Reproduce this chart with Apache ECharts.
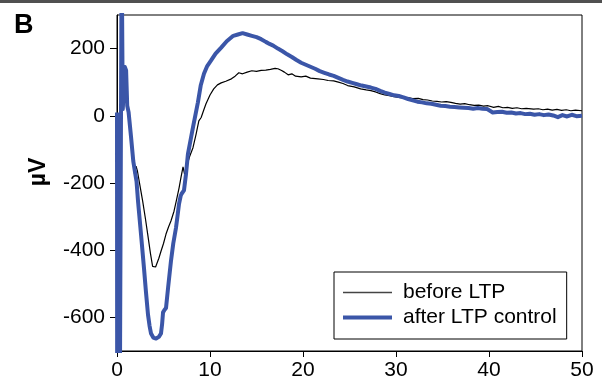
<!DOCTYPE html>
<html><head><meta charset="utf-8">
<script src="https://cdn.jsdelivr.net/npm/echarts@6/dist/echarts.min.js"></script>
<style>html,body{margin:0;padding:0;background:#fff}#c{width:602px;height:385px}</style>
</head><body><div id="c"></div>
<script>
const xTicks = [0, 10, 20, 30, 40, 50];
const yTicks = [-600, -400, -200, 0, 200];
const seriesNames = ['before LTP', 'after LTP control'];

const beforeLTP = [
[1.85,-172],[2.05,-150],[2.2,-165],[2.45,-205],[2.76,-254],[3.05,-305],[3.3,-352],[3.6,-410],[3.83,-448],[3.97,-453],[4.15,-450],[4.5,-424],[4.73,-403],[4.85,-398],[5.0,-380],[5.27,-352],[5.55,-330],[5.8,-313],[6.13,-284],[6.4,-250],[6.67,-215],[6.9,-180],[7.1,-152],[7.2,-148],[7.3,-178],[7.5,-150],[7.8,-122],[8.17,-95],[8.5,-55],[8.8,-15],[9.05,-5],[9.3,15],[9.57,36],[10.0,62],[10.4,80],[10.8,92],[11.2,98],[11.7,103],[12.3,110],[12.7,118],[13.1,128],[13.5,125],[14.0,130],[14.5,134],[15.0,132],[15.5,135],[16.0,136],[16.5,138],[17.0,141],[17.3,140],[17.7,135],[18.0,130],[18.4,122],[18.8,125],[19.2,118],[19.8,116],[20.3,118],[20.8,112],[21.6,110],[22.2,108],[22.7,105],[23.3,104],[23.8,100],[24.3,96],[24.8,90],[25.5,86],[26.2,80],[26.8,77],[27.3,75],[27.8,71],[28.3,66],[28.8,62],[29.3,60],[29.8,57],[30.3,55],[30.8,53],[31.3,54],[31.8,51],[32.4,52],[32.9,48],[33.4,47],[33.9,44],[34.4,43],[34.9,41],[35.4,42],[35.9,40],[36.4,37],[36.9,35],[37.4,36],[37.9,33],[38.4,31],[38.9,32],[39.4,29],[39.9,30],[40.5,25],[41.0,28],[41.5,24],[42.0,25],[42.5,22],[43.0,24],[43.5,21],[44.0,22],[44.8,20],[45.3,21],[45.8,18],[46.3,20],[46.8,17],[47.3,19],[47.8,16],[48.3,18],[48.8,15],[49.3,17],[50,15]
];

const afterLTP = [
[0,10],[0.02,-900],[0.3,-900],[0.5,500],[0.55,500],[0.62,20],[0.72,20],[0.85,145],[0.98,135],[1.1,30],[1.25,10],[1.5,-60],[1.75,-135],[1.95,-170],[2.1,-195],[2.26,-254],[2.58,-352],[2.9,-453],[3.1,-520],[3.33,-591],[3.5,-625],[3.66,-648],[3.9,-660],[4.2,-663],[4.5,-658],[4.73,-648],[4.85,-620],[4.95,-585],[5.1,-578],[5.27,-572],[5.5,-510],[5.8,-433],[6.05,-380],[6.34,-334],[6.5,-300],[6.67,-262],[6.85,-238],[6.95,-232],[7.05,-236],[7.2,-222],[7.42,-173],[7.63,-113],[7.96,-65],[8.2,-30],[8.45,5],[8.7,40],[9.0,90],[9.35,125],[9.7,148],[10.1,164],[10.6,185],[11.2,203],[11.8,222],[12.5,238],[13.0,242],[13.5,246],[14.0,242],[14.5,238],[15.0,234],[15.5,228],[16.0,220],[16.4,214],[16.8,209],[17.3,200],[17.8,192],[18.3,183],[18.8,175],[19.3,166],[19.8,158],[20.3,152],[20.8,146],[21.3,140],[21.8,133],[22.3,128],[22.8,123],[23.3,119],[23.8,113],[24.3,107],[24.8,102],[25.3,98],[25.8,94],[26.3,90],[26.8,87],[27.3,84],[27.8,80],[28.3,74],[28.8,69],[29.3,65],[29.8,61],[30.3,59],[30.8,55],[31.3,50],[31.8,46],[32.3,42],[32.8,40],[33.3,37],[33.8,36],[34.3,33],[34.8,30],[35.3,29],[35.8,27],[36.3,26],[36.8,25],[37.3,24],[37.8,23],[38.3,21],[38.8,23],[39.3,21],[39.8,20],[40.1,15],[40.4,10],[40.9,11],[41.4,12],[41.9,9],[42.4,10],[42.9,7],[43.4,8],[43.9,5],[44.4,6],[44.9,3],[45.4,5],[45.9,2],[46.4,4],[46.9,1],[47.4,-4],[47.9,2],[48.4,-2],[48.9,3],[49.4,-1],[50,0]
];

const FONT = '"Liberation Sans", Arial, sans-serif';
const BLUE = '#3b56a8';
const chart = echarts.init(document.getElementById('c'), null, {renderer: 'canvas'});
chart.setOption({
  animation: false,
  backgroundColor: '#fff',
  grid: {left: 117, right: 20, top: 15, bottom: 34, show: true, borderColor: '#000', borderWidth: 1, backgroundColor: 'transparent'},
  xAxis: {
    type: 'value', min: xTicks[0], max: xTicks[xTicks.length - 1], interval: 10,
    axisLine: {show: true, onZero: false, lineStyle: {color: '#000', width: 1}},
    axisTick: {show: true, length: 6, lineStyle: {color: '#000'}},
    axisLabel: {color: '#000', fontSize: 21, fontFamily: FONT, margin: 9},
    splitLine: {show: false}
  },
  yAxis: {
    type: 'value', min: -700, max: 300,
    axisLine: {show: true, onZero: false, lineStyle: {color: '#000', width: 1}},
    axisTick: {show: true, length: 7, customValues: yTicks, lineStyle: {color: '#000'}},
    axisLabel: {color: '#000', fontSize: 21, fontFamily: FONT, margin: 12, customValues: yTicks},
    splitLine: {show: false}
  },
  legend: {
    data: [
      {name: seriesNames[0], icon: 'path://M0,0h0.01v0.01h-0.01z M0,6.3h49v1.4h-49z M0,14h0.01v0.01h-0.01z', itemStyle: {color: '#444'}},
      {name: seriesNames[1], icon: 'path://M0,0h0.01v0.01h-0.01z M0,5h49v4h-49z M0,14h0.01v0.01h-0.01z', itemStyle: {color: BLUE}}
    ],
    orient: 'vertical', left: 334, top: 272,
    itemWidth: 49, itemHeight: 14, itemGap: 4, symbolKeepAspect: false,
    padding: [10, 10, 11, 9],
    borderColor: '#000', borderWidth: 1, backgroundColor: '#fff',
    textStyle: {color: '#000', fontSize: 21, fontFamily: FONT, padding: [0, 0, 0, 6]}
  },
  graphic: [
    {type: 'rect', shape: {x: 0, y: 0, width: 602, height: 3}, style: {fill: '#505050'}},
    {type: 'text', left: 14, top: 12, style: {text: 'B', font: 'bold 27px ' + FONT, fill: '#000'}},
    {type: 'text', x: 39, y: 172, rotation: Math.PI / 2,
     style: {text: 'µV', font: 'bold 23px ' + FONT, fill: '#000', align: 'center', verticalAlign: 'middle'}}
  ],
  series: [
    {name: seriesNames[0], type: 'line', data: beforeLTP, symbol: 'none', clip: true, z: 2,
     lineStyle: {color: '#000', width: 1.2}, itemStyle: {color: '#000'}},
    {name: seriesNames[1], type: 'line', data: afterLTP, symbol: 'none', clip: true, z: 3,
     lineStyle: {color: BLUE, width: 4, join: 'round'}, itemStyle: {color: BLUE}}
  ]
});
</script></body></html>
